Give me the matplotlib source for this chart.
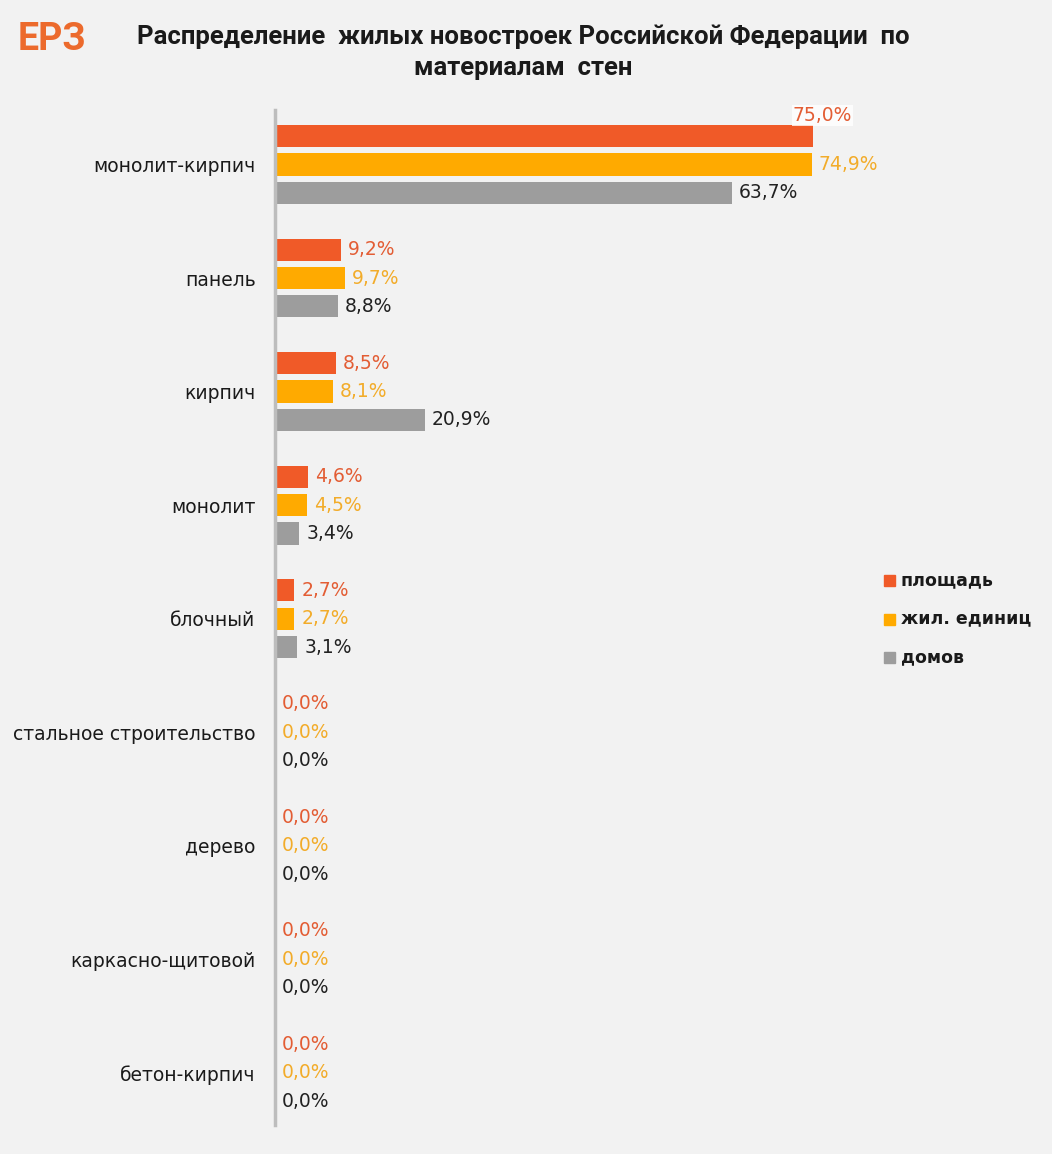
import matplotlib.pyplot as plt
import matplotlib.patches as mpatches
import numpy as np

categories = ['монолит-кирпич', 'панель', 'кирпич', 'монолит', 'блочный',
              'стальное строительство', 'дерево', 'каркасно-щитовой', 'бетон-кирпич']
area = [75.0, 9.2, 8.5, 4.6, 2.7, 0.0, 0.0, 0.0, 0.0]
units = [74.9, 9.7, 8.1, 4.5, 2.7, 0.0, 0.0, 0.0, 0.0]
houses = [63.7, 8.8, 20.9, 3.4, 3.1, 0.0, 0.0, 0.0, 0.0]
series_names = ['площадь', 'жил. единиц', 'домов']

bar_colors = ['#f05a28', '#ffaa00', '#9d9d9d']
text_colors = ['#e35d34', '#f2ac2a', '#222222']
bg = '#f2f2f2'

plt.rcParams['font.family'] = ['DejaVu Sans']

W, H = 1052, 1154
fig = plt.figure(figsize=(W / 100, H / 100), dpi=100, facecolor=bg)
# axes in pixel coords: left 275, right 860, top 110, bottom 1125
ax = fig.add_axes([275 / W, 1 - 1125 / H, (860 - 275) / W, (1125 - 110) / H])
ax.set_facecolor(bg)

y = np.arange(len(categories))
h = 0.195
off = 0.25
series = [area, units, houses]
for i, vals in enumerate(series):
    ax.barh(y + (i - 1) * off, vals, height=h, color=bar_colors[i], label=series_names[i])
    for j, v in enumerate(vals):
        lbl = '{:.1f}%'.format(v).replace('.', ',')
        if i == 0 and j == 0:
            ax.annotate(lbl, (v, y[j] + (i - 1) * off), xytext=(7, 15),
                        textcoords='offset points', ha='center', va='center',
                        fontsize=13.5, color=text_colors[i],
                        bbox=dict(facecolor='white', edgecolor='none', pad=0.5, alpha=0.8))
        else:
            ax.annotate(lbl, (v, y[j] + (i - 1) * off), xytext=(5, 0),
                        textcoords='offset points', ha='left', va='center',
                        fontsize=13.5, color=text_colors[i])

ax.set_xlim(0, (860 - 275) / 7.17)
ax.set_ylim(8.46, -0.48)
ax.set_yticks(y)
ax.set_yticklabels(categories, fontsize=13.5, color='#1a1a1a')
ax.tick_params(axis='y', length=0, pad=14)
ax.set_xticks([])
for s in ['top', 'right', 'bottom']:
    ax.spines[s].set_visible(False)
ax.spines['left'].set_color('#bdbdbd')
ax.spines['left'].set_linewidth(2.5)

# legend
for i, name in enumerate(series_names):
    ly = 580 + i * 38.5
    fig.patches.append(mpatches.Rectangle((884 / W, 1 - (ly + 6) / H), 11 / W, 11 / H,
                                          transform=fig.transFigure, color=bar_colors[i]))
    fig.text(901 / W, 1 - ly / H, name, fontsize=12.5, color='#1a1a1a', ha='left',
             va='center', fontweight='bold')

# logo and title
fig.text(18 / W, 1 - 39 / H, 'ЕРЗ', fontsize=27, fontweight='bold', color='#ec6a2c',
         ha='left', va='center', family='Roboto')
fig.text(523 / W, 1 - 37 / H, 'Распределение  жилых новостроек Российской Федерации  по',
         fontsize=18.5, fontweight='bold', color='#1a1a1a', ha='center', va='center',
         family='Roboto')
fig.text(523 / W, 1 - 68 / H, 'материалам  стен', fontsize=18.5, fontweight='bold',
         color='#1a1a1a', ha='center', va='center', family='Roboto')

fig.savefig('out.png', dpi=100, facecolor=bg)
